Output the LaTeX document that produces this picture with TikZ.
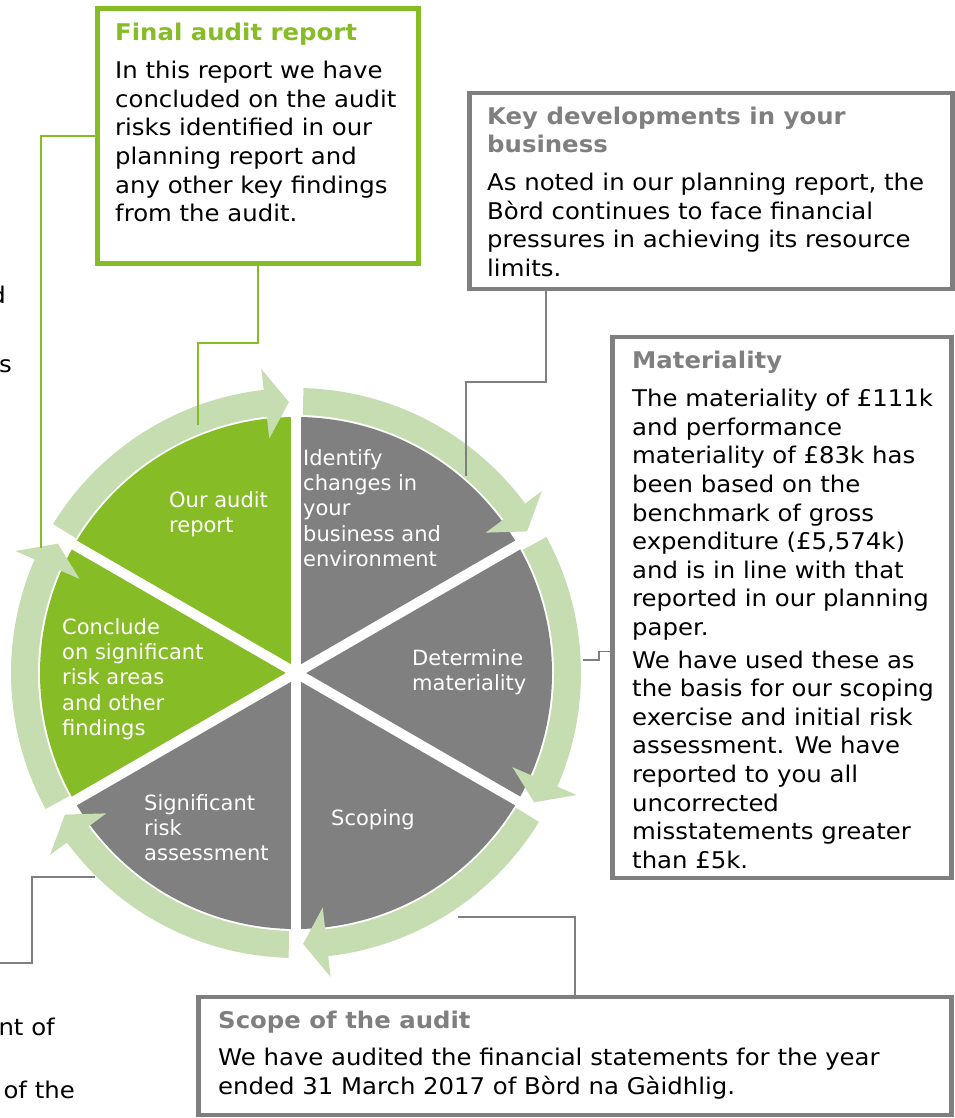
\documentclass[tikz,border=0pt]{standalone}
\usepackage{fontspec}
\setmainfont{DejaVu Sans}
\newfontfamily\boxfont[FakeStretch=1.06]{DejaVu Sans}
\usetikzlibrary{positioning, calc}

\definecolor{auditgreen}{HTML}{86BC25}
\definecolor{ringgreen}{HTML}{C5DDB0}
\definecolor{sectorgray}{HTML}{808080}
\definecolor{boxgray}{HTML}{7F7F7F}

% one arc of the outer ring, from angle #1 clockwise, with its head
\newcommand{\ringpart}[1]{%
    \fill[ringgreen] (#1-1.5:285pt)
        arc[start angle=#1-1.5, end angle=#1-53.5, radius=285pt]
        -- (#1-53.5:306pt) -- (#1-58.5:271pt) -- (#1-53.5:236pt)
        -- (#1-53.5:258pt)
        arc[start angle=#1-53.5, end angle=#1-1.5, radius=258pt] -- cycle;
}

\begin{document}
\begin{tikzpicture}[
x=1pt, y=1pt,
greenbox/.style={
    draw=auditgreen,
    line width=5pt,
    anchor=north west,
    inner sep=0pt
    },
graybox/.style={
    draw=boxgray,
    line width=4.5pt,
    anchor=north west,
    inner sep=0pt
    },
head/.style={
    font=\boxfont\bfseries\fontsize{23}{28}\selectfont,
    inner sep=0pt,
    align=left
    },
body/.style={
    font=\boxfont\fontsize{23}{28.6}\selectfont,
    inner sep=0pt,
    align=left,
    anchor=north west
    },
wheel/.style={
    text=white,
    font=\fontsize{21}{25.4}\selectfont,
    inner sep=0pt,
    align=left,
    anchor=north west
    },
link/.style={draw=auditgreen, line width=1.6pt},
greylink/.style={draw=boxgray, line width=1.6pt}
]

\useasboundingbox (0,0) rectangle (954,1118);

% wheel
\begin{scope}[shift={(296,445)}]
\fill[auditgreen] (0,0) -- (90:256pt) arc[start angle=90, end angle=150, radius=256pt] -- cycle;
\fill[auditgreen] (0,0) -- (150:256pt) arc[start angle=150, end angle=210, radius=256pt] -- cycle;
\fill[sectorgray] (0,0) -- (210:256pt) arc[start angle=210, end angle=270, radius=256pt] -- cycle;
\fill[sectorgray] (0,0) -- (-90:256pt) arc[start angle=-90, end angle=-30, radius=256pt] -- cycle;
\fill[sectorgray] (0,0) -- (-30:256pt) arc[start angle=-30, end angle=30, radius=256pt] -- cycle;
\fill[sectorgray] (0,0) -- (30:256pt) arc[start angle=30, end angle=90, radius=256pt] -- cycle;

\draw[white, line width=10pt] (90:262pt) -- (-90:262pt);
\draw[white, line width=10pt] (30:262pt) -- (210:262pt);
\draw[white, line width=10pt] (150:262pt) -- (-30:262pt);

\ringpart{150}
\ringpart{90}
\ringpart{30}
\ringpart{-30}
\ringpart{-90}
\ringpart{-150}
\end{scope}

\node[wheel] (ourreport) at (169,627) {Our audit\\report};
\node[wheel] (identify) at (303,669) {Identify\\changes in\\your\\business and\\environment};
\node[wheel] (determine) at (412,469) {Determine\\materiality};
\node[wheel] (scoping) at (331,309) {Scoping};
\node[wheel] (sigrisk) at (144,324) {Significant\\risk\\assessment};
\node[wheel] (conclude) at (62,500) {Conclude\\on significant\\risk areas\\and other\\findings};

% boxes
\node[greenbox, minimum width=321pt, minimum height=255pt] (final) at (95,1112) {};
\node[head, text=auditgreen, below right=17pt and 20pt of final.north west] (finalhead) {Final audit report};
\node[body, below right=55pt and 20pt of final.north west] (finalbody) {In this report we have\\concluded on the audit\\risks identified in our\\planning report and\\any other key findings\\from the audit.};

\node[graybox, minimum width=483pt, minimum height=196pt] (keydev) at (467,1027) {};
\node[head, text=boxgray, below right=16pt and 20pt of keydev.north west] (keydevhead) {Key developments in your\\business};
\node[body, below right=82pt and 20pt of keydev.north west] (keydevbody) {As noted in our planning report, the\\B\`{o}rd continues to face financial\\pressures in achieving its resource\\limits.};

\node[graybox, minimum width=339pt, minimum height=541pt] (mat) at (610,783) {};
\node[head, text=boxgray, below right=16pt and 22pt of mat.north west] (mathead) {Materiality};
\node[body, below right=54pt and 22pt of mat.north west] (matbody) {The materiality of \pounds111k\\and performance\\materiality of \pounds83k has\\been based on the\\benchmark of gross\\expenditure (\pounds5,574k)\\and is in line with that\\reported in our planning\\paper.\\[4pt]We have used these as\\the basis for our scoping\\exercise and initial risk\\assessment. We have\\reported to you all\\uncorrected\\misstatements greater\\than \pounds5k.};

\node[graybox, minimum width=753pt, minimum height=118pt] (scope) at (196,123) {};
\node[head, text=boxgray, below right=16pt and 22pt of scope.north west] (scopehead) {Scope of the audit};
\node[body, below right=53pt and 22pt of scope.north west] (scopebody) {We have audited the financial statements for the year\\ended 31 March 2017 of B\`{o}rd na G\`{a}idhlig.};

% text cut off at the left edge
\node[body, anchor=east] (cutone) at (6,823) {d};
\node[body, anchor=east] (cuttwo) at (12,752) {s};
\node[body, anchor=east] (cutthree) at (55,91) {nt of};
\node[body, anchor=east] (cutfour) at (75,28) {of the};

% connectors
\coordinate (concl) at (41,570);
\coordinate (ourbend) at (198,775);
\coordinate (ourpt) at (198,693);
\coordinate (identbend) at (466,736);
\coordinate (identpt) at (466,642);
\coordinate (matbend) at (599,458);
\coordinate (matpt) at (583,458);
\coordinate (scopept) at (458,201);
\coordinate (leftend) at (0,155);
\coordinate (leftbend) at (32,241);
\coordinate (signpt) at (95,241);

\draw[link] (final.west) -| (concl);
\draw[link] (final.south) |- (ourbend) -- (ourpt);
\draw[greylink] (keydev.south west) ++(79,0) |- (identbend) -- (identpt);
\draw[greylink] ($(mat.south west)+(0,229)$) -| (matbend) -- (matpt);
\draw[greylink] (scope.north) |- (scopept);
\draw[greylink] (leftend) -| (leftbend) -- (signpt);

\end{tikzpicture}
\end{document}
